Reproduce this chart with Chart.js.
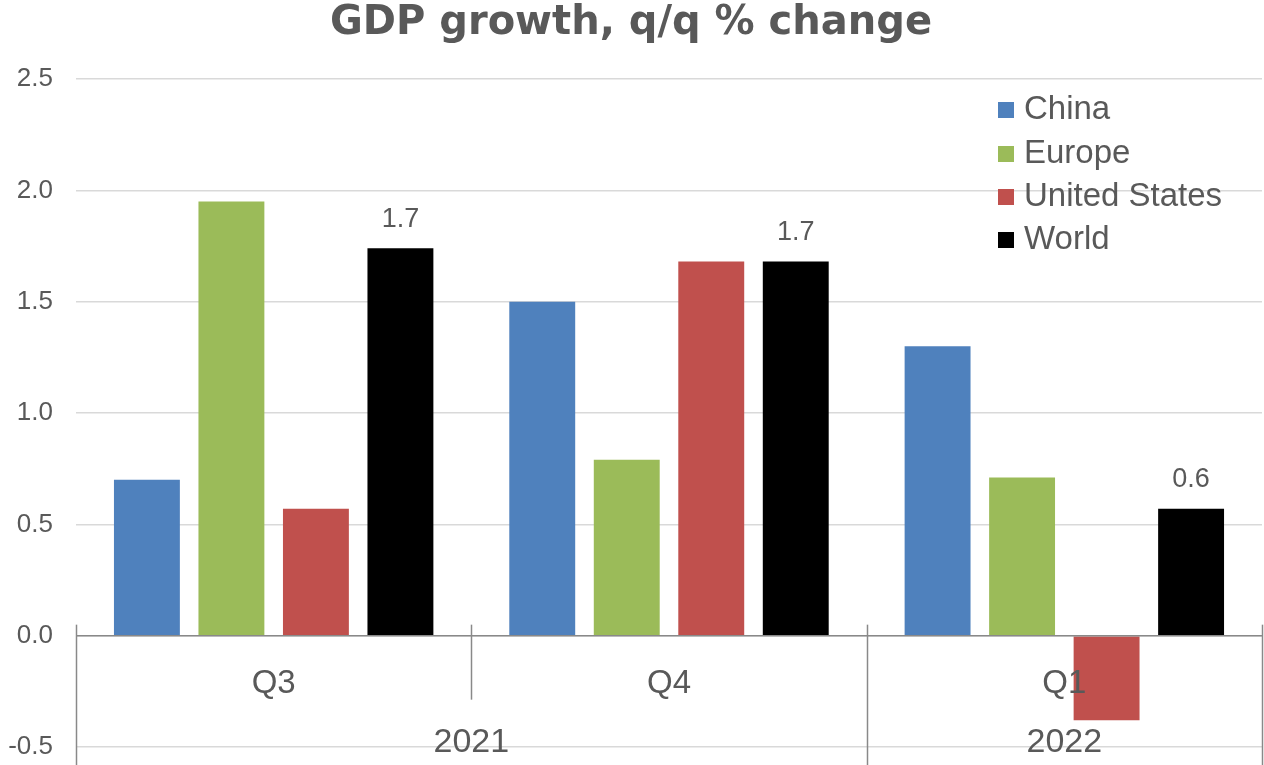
<!DOCTYPE html>
<html>
<head>
<meta charset="utf-8">
<script src="https://cdn.jsdelivr.net/npm/chart.js@4/dist/chart.umd.min.js"></script>
<style>
  html, body { margin: 0; padding: 0; background: #ffffff; }
  #wrap { width: 1264px; height: 765px; position: relative; }
  #c { display: block; }
</style>
</head>
<body>
<div id="wrap"><canvas id="c" width="1264" height="765"></canvas></div>
<script>
// Quarters and the year each belongs to
const quarters = ['Q3', 'Q4', 'Q1'];
const years = ['2021', '2021', '2022'];

// Quarter-on-quarter GDP growth, %
const china = [0.70, 1.50, 1.30];
const europe = [1.95, 0.79, 0.71];
const unitedStates = [0.57, 1.68, -0.38];
const world = [1.74, 1.68, 0.57];

const yTicks = [-0.5, 0.0, 0.5, 1.0, 1.5, 2.0, 2.5];

const TEXT = '#595959';
const SANS = 'Liberation Sans, Arial, sans-serif';

const seriesNames = ['China', 'Europe', 'United States', 'World'];
const seriesColors = ['#4F81BD', '#9BBB59', '#C0504D', '#000000'];
const seriesValues = [china, europe, unitedStates, world];

// Multi-level category axis, legend and value labels on the World series
const decorations = {
  id: 'decorations',
  afterDatasetsDraw(chart) {
    const ctx = chart.ctx;
    const x = chart.scales.x;
    const y = chart.scales.y;
    const area = chart.chartArea;
    const y0 = y.getPixelForValue(0);
    const n = quarters.length;
    const half = (x.getPixelForValue(1) - x.getPixelForValue(0)) / 2;

    ctx.save();
    // category axis line at zero
    ctx.strokeStyle = '#898989';
    ctx.lineWidth = 1.5;
    ctx.beginPath();
    ctx.moveTo(area.left, y0);
    ctx.lineTo(area.right, y0);
    ctx.stroke();

    // separators between categories; longer ones also split the years
    for (let i = 0; i <= n; i++) {
      const px = Math.round(i === 0 ? area.left : (i === n ? area.right : x.getPixelForValue(i) - half)) + 0.5;
      const yearBreak = i === 0 || i === n || years[i] !== years[i - 1];
      ctx.beginPath();
      ctx.moveTo(px, y0 - 11);
      ctx.lineTo(px, yearBreak ? chart.height : y0 + 64);
      ctx.stroke();
    }

    // quarter labels
    ctx.fillStyle = TEXT;
    ctx.textAlign = 'center';
    ctx.textBaseline = 'middle';
    ctx.font = '33px ' + SANS;
    quarters.forEach((q, i) => {
      ctx.fillText(q, x.getPixelForValue(i), y0 + 48);
    });

    // year labels centred over their quarters
    ctx.font = '34px ' + SANS;
    let start = 0;
    for (let i = 1; i <= n; i++) {
      if (i === n || years[i] !== years[start]) {
        const left = x.getPixelForValue(start) - half;
        const right = x.getPixelForValue(i - 1) + half;
        ctx.fillText(years[start], (left + right) / 2, y0 + 107);
        start = i;
      }
    }

    // value labels above World bars
    const meta = chart.getDatasetMeta(3);
    ctx.font = '27px ' + SANS;
    meta.data.forEach((bar, i) => {
      ctx.fillText(world[i].toFixed(1), bar.x, bar.y - 29);
    });

    // legend
    ctx.textAlign = 'left';
    ctx.font = '33px ' + SANS;
    const rowY = [109, 153, 196, 239];
    seriesNames.forEach((name, i) => {
      ctx.fillStyle = seriesColors[i];
      ctx.fillRect(998, rowY[i] - 7, 16, 16);
      ctx.fillStyle = TEXT;
      ctx.fillText(name, 1024, rowY[i] + 1);
    });
    ctx.restore();
  }
};

new Chart(document.getElementById('c'), {
  type: 'bar',
  data: {
    labels: quarters,
    datasets: seriesNames.map((name, i) => ({
      label: name,
      data: seriesValues[i],
      backgroundColor: seriesColors[i],
      borderWidth: 0,
      categoryPercentage: 0.855,
      barPercentage: 0.78
    }))
  },
  options: {
    responsive: false,
    animation: false,
    layout: { padding: { left: 0, right: 2, top: 0, bottom: 18 } },
    plugins: {
      legend: { display: false },
      tooltip: { enabled: false },
      title: {
        display: true,
        text: 'GDP growth, q/q % change',
        color: TEXT,
        font: { family: 'DejaVu Sans', size: 40, weight: 'bold', lineHeight: 1.2 },
        padding: { top: 0, bottom: 31 }
      }
    },
    scales: {
      x: { display: false },
      y: {
        min: -0.5,
        max: 2.5,
        afterBuildTicks(scale) { scale.ticks = yTicks.map(v => ({ value: v })); },
        afterFit(scale) {
          scale.width = 76;
          scale.paddingTop = 0;
          scale.paddingBottom = 0;
        },
        ticks: {
          color: TEXT,
          font: { family: SANS, size: 26 },
          padding: 23,
          callback: v => Number(v).toFixed(1)
        },
        grid: { color: '#D9D9D9', lineWidth: 1.5, drawTicks: false },
        border: { display: false }
      }
    }
  },
  plugins: [decorations]
});
</script>
</body>
</html>
